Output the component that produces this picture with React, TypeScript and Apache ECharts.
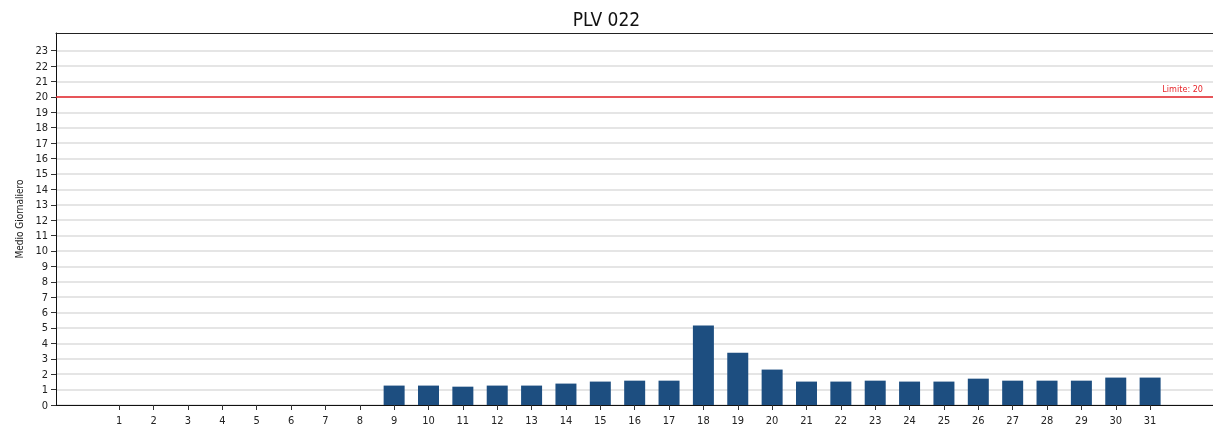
import React, { useEffect, useRef } from "react";
import * as echarts from "echarts";

const days: number[] = Array.from({ length: 31 }, (_, i) => i + 1);
const values: (number | null)[] = [
  null, null, null, null, null, null, null, null,
  1.26, 1.26, 1.19, 1.26, 1.26, 1.39, 1.52, 1.58, 1.58,
  5.16, 3.4, 2.3, 1.52, 1.52, 1.58, 1.52, 1.52, 1.71,
  1.58, 1.58, 1.58, 1.78, 1.78,
];
const yTicks: number[] = Array.from({ length: 24 }, (_, i) => i);
const limitValue = 20;
const titleText = "PLV 022";
const yName = "Medio Giornaliero";

const FONT = "'Liberation Sans Narrow', 'DejaVu Sans Condensed', 'Roboto Condensed', 'Noto Sans', sans-serif";

export default function App() {
  const ref = useRef<HTMLDivElement>(null);
  useEffect(() => {
    if (!ref.current) return;
    const chart = echarts.init(ref.current, undefined, { renderer: "svg" });
    chart.setOption({
      animation: false,
      textStyle: { fontFamily: FONT },
      title: {
        text: titleText,
        left: "center",
        top: 4,
        textStyle: { fontFamily: FONT, fontSize: 19, fontWeight: "normal", color: "#111" },
      },
      grid: {
        left: 56,
        top: 33,
        right: 0,
        bottom: 27,
        show: false,
      },
      xAxis: [
        {
          type: "value",
          min: -0.84,
          max: 32.83,
          axisLine: { show: true, onZero: false, lineStyle: { color: "#111", width: 1 } },
          axisTick: { show: true, customValues: days, length: 5, lineStyle: { color: "#333" } },
          axisLabel: { customValues: days, fontFamily: FONT, fontSize: 11, color: "#222", margin: 10 },
          splitLine: { show: false },
        },
        {
          type: "value",
          position: "top",
          min: 0,
          max: 1,
          axisLine: { show: true, onZero: false, lineStyle: { color: "#222", width: 1 } },
          axisTick: { show: false },
          axisLabel: { show: false },
          splitLine: { show: false },
        },
      ],
      yAxis: {
        type: "value",
        min: 0,
        max: 24.15,
        name: yName,
        nameLocation: "middle",
        nameGap: 32,
        nameTextStyle: { fontFamily: FONT, fontSize: 10, color: "#222" },
        axisLine: { show: true, onZero: false, lineStyle: { color: "#111", width: 1 } },
        axisTick: { show: true, customValues: yTicks, length: 5, lineStyle: { color: "#333" } },
        axisLabel: { customValues: yTicks, fontFamily: FONT, fontSize: 11, color: "#222", margin: 8 },
        splitLine: { show: true, lineStyle: { color: "#dcdcdc", width: 1.5 } },
      },
      series: [
        {
          type: "bar",
          xAxisIndex: 0,
          barWidth: 21,
          itemStyle: { color: "#1d4e80" },
          data: days.map((d, i) => [d, values[i]]),
          markLine: {
            silent: true,
            symbol: "none",
            lineStyle: { color: "#e8262b", width: 1.5, type: "solid" },
            label: {
              show: true,
              position: "insideEndTop",
              formatter: "Limite: " + limitValue,
              color: "#e8262b",
              fontFamily: FONT,
              fontSize: 9,
              distance: [10, 3],
            },
            data: [{ yAxis: limitValue }],
          },
        },
      ],
    });
    return () => chart.dispose();
  }, []);
  return (
    <div
      ref={ref}
      style={{ position: "fixed", left: 0, top: 0, width: 1213, height: 432 }}
    />
  );
}
